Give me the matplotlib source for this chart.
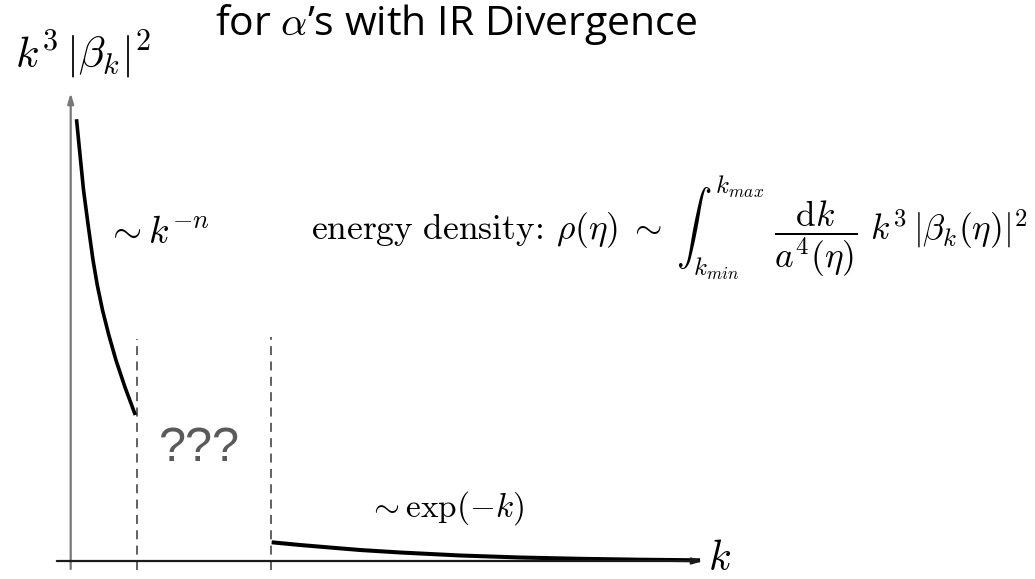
import matplotlib
matplotlib.use("Agg")
import matplotlib.pyplot as plt

plt.rcParams["mathtext.fontset"] = "cm"

# Schematic spectrum: IR power-law branch and UV exponential tail
k_ir = [0.088, 0.141, 0.194, 0.264, 0.338, 0.402, 0.482, 0.577, 0.686, 0.821, 0.979]
n_ir = [9.44, 8.68, 7.93, 7.18, 6.43, 5.90, 5.36, 4.83, 4.29, 3.72, 3.12]

k_uv = [3.045, 3.474, 3.929, 4.383, 4.989, 5.898, 6.807, 7.717, 8.626, 9.535]
n_uv = [0.400, 0.342, 0.288, 0.235, 0.182, 0.118, 0.075, 0.047, 0.028, 0.015]

# Boundaries of the unknown intermediate region
k_edges = [1.0, 3.03]
edge_top = [4.74, 4.79]

W, H = 1035, 579
sx, sy = 66.0, 46.8          # pixels per unit on each axis
x0, y0 = 70.7, 561.0         # pixel position of the origin

fig = plt.figure(figsize=(W / 100, H / 100), dpi=100)
ax = fig.add_axes([0, 0, 1, 1])
ax.set_xlim(-x0 / sx, (W - x0) / sx)
ax.set_ylim(-(H - y0) / sy, y0 / sy)
ax.axis("off")

# Axes arrows
ax.annotate("", xy=(0, 10.0), xytext=(0, -0.17),
            arrowprops=dict(arrowstyle="-|>,head_length=0.6,head_width=0.18",
                            color="#777777", lw=1.6, shrinkA=0, shrinkB=0))
ax.annotate("", xy=(9.58, 0), xytext=(-0.21, 0),
            arrowprops=dict(arrowstyle="-|>,head_length=0.6,head_width=0.18",
                            color="#1a1a1a", lw=1.6, shrinkA=0, shrinkB=0))

# Region boundaries
for ke, top in zip(k_edges, edge_top):
    ax.plot([ke, ke], [-0.19, top], color="#555555", lw=1.3,
            dashes=(5, 3.5), solid_capstyle="butt")

# Spectrum branches
ax.plot(k_ir, n_ir, color="black", lw=2.6, solid_capstyle="butt")
ax.plot(k_uv, n_uv, color="black", lw=2.9, solid_capstyle="butt")

# Labels
ax.text(9.656, 0.06, r"$k$", fontsize=30, ha="left", va="center")
ax.text(-0.844, 10.53, r"$k^3\,|\beta_k|^2$", fontsize=31, ha="left", va="baseline")
ax.text(0.53, 6.79, r"$\sim k^{-n}$", fontsize=27, ha="left", va="baseline")
ax.text(4.50, 1.13, r"$\sim\exp(-k)$", fontsize=24, ha="left", va="center")
ax.text(1.93, 2.41, "???", fontsize=35, color="#5a5a5a", family="Liberation Sans",
        ha="center", va="center")
ax.text(14.5, 6.85,
        r"$\mathrm{energy\ density\!:}\,\rho(\eta)\;\sim\;\int_{k_{min}}^{k_{max}}\ "
        r"\dfrac{\mathrm{d}k}{a^4(\eta)}\ k^3\,|\beta_k(\eta)|^2$",
        fontsize=25.5, ha="right", va="baseline")

fig.text(215 / W, 1 - 35 / H, r"for $\alpha$’s with IR Divergence", fontsize=29.5,
         family="Open Sans", ha="left", va="baseline")

fig.savefig("out.png", dpi=100)
